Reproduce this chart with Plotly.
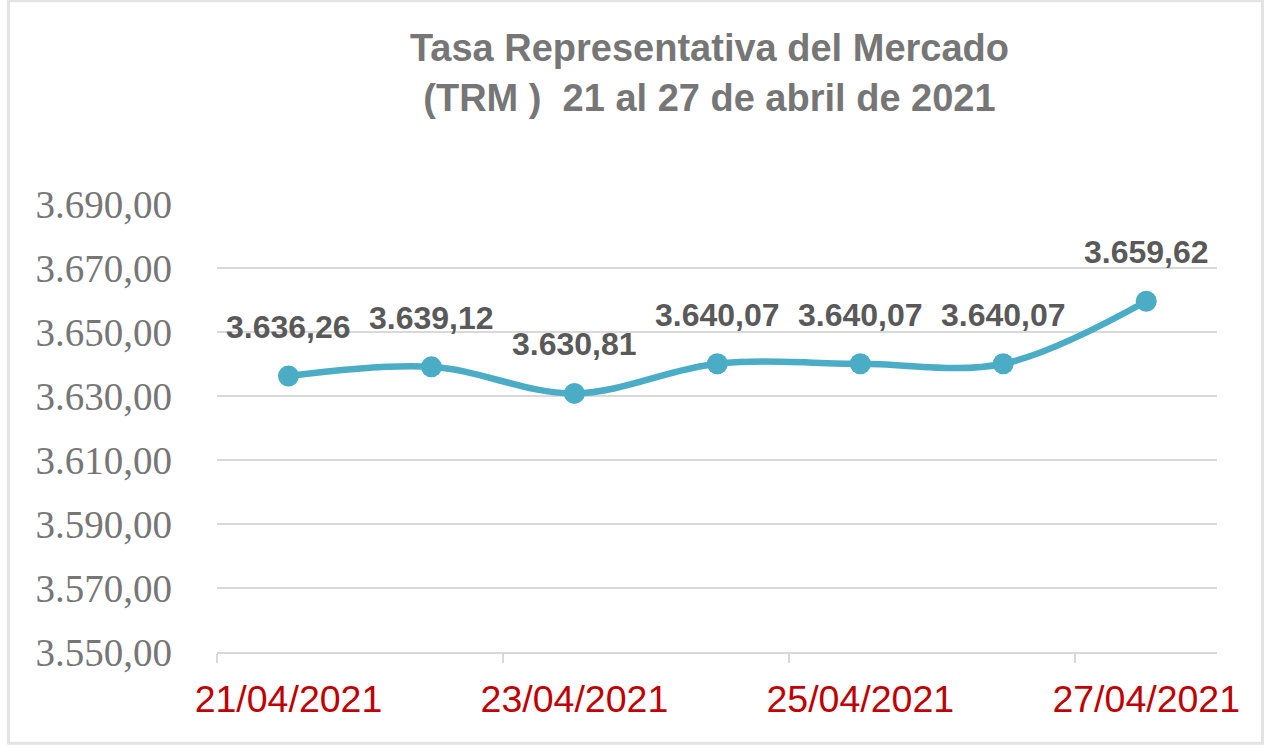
import plotly.graph_objects as go

fechas = ["21/04/2021", "22/04/2021", "23/04/2021", "24/04/2021",
          "25/04/2021", "26/04/2021", "27/04/2021"]
trm = [3636.26, 3639.12, 3630.81, 3640.07, 3640.07, 3640.07, 3659.62]
etiquetas = ["3.636,26", "3.639,12", "3.630,81", "3.640,07", "3.640,07", "3.640,07", "3.659,62"]

titulo = "Tasa Representativa del Mercado<br>(TRM )  21 al 27 de abril de 2021"

fig = go.Figure()
fig.add_trace(go.Scatter(
    x=fechas, y=trm, mode="lines+markers",
    line=dict(color="#4BACC6", width=6.5, shape="spline", smoothing=1.0),
    marker=dict(color="#4BACC6", size=21),
    hoverinfo="skip", showlegend=False,
))

for f, v, t in zip(fechas, trm, etiquetas):
    fig.add_annotation(x=f, y=v, text="<b>" + t + "</b>", showarrow=False,
                       xanchor="center", yanchor="middle", yshift=49,
                       font=dict(family="Liberation Sans, Arial", size=32, color="#595959"))

fig.update_layout(
    width=1266, height=746,
    margin=dict(l=217, r=49, t=204, b=94),
    paper_bgcolor="white", plot_bgcolor="white",
    separators=",.",
    title=dict(text="<b>" + titulo + "</b>", x=0.5604, xanchor="center",
               y=0.918, yanchor="middle",
               font=dict(family="Liberation Sans, Arial", size=38, color="#767676")),
    xaxis=dict(type="category", tickson="boundaries", tick0=0, dtick=2,
               range=[-0.5, 6.495], automargin=False, tickangle=0,
               showgrid=False, showline=True, linecolor="#d9d9d9", linewidth=2,
               ticks="outside", ticklen=9, tickwidth=2, tickcolor="#d9d9d9",
               tickfont=dict(family="Liberation Sans, Arial", size=37.5, color="#c00000"),
               ticklabelstandoff=13),
    yaxis=dict(range=[3550, 3690], dtick=20, tick0=3550, tickformat=",.2f",
               automargin=False,
               showgrid=True, gridcolor="#d9d9d9", gridwidth=2,
               zeroline=False, showline=False, ticks="",
               tickfont=dict(family="Liberation Serif, Times New Roman", size=39, color="#767676"),
               ticklabelstandoff=44),
    shapes=[dict(type="rect", xref="paper", yref="paper",
                 x0=-0.2085, x1=1.0455, y0=-0.2035, y1=1.4535,
                 line=dict(color="#e3e3e3", width=3), fillcolor="rgba(0,0,0,0)",
                 layer="below")],
)

fig.write_html("out.html", config={"displayModeBar": False},
               post_script="document.body.style.margin='0';")
